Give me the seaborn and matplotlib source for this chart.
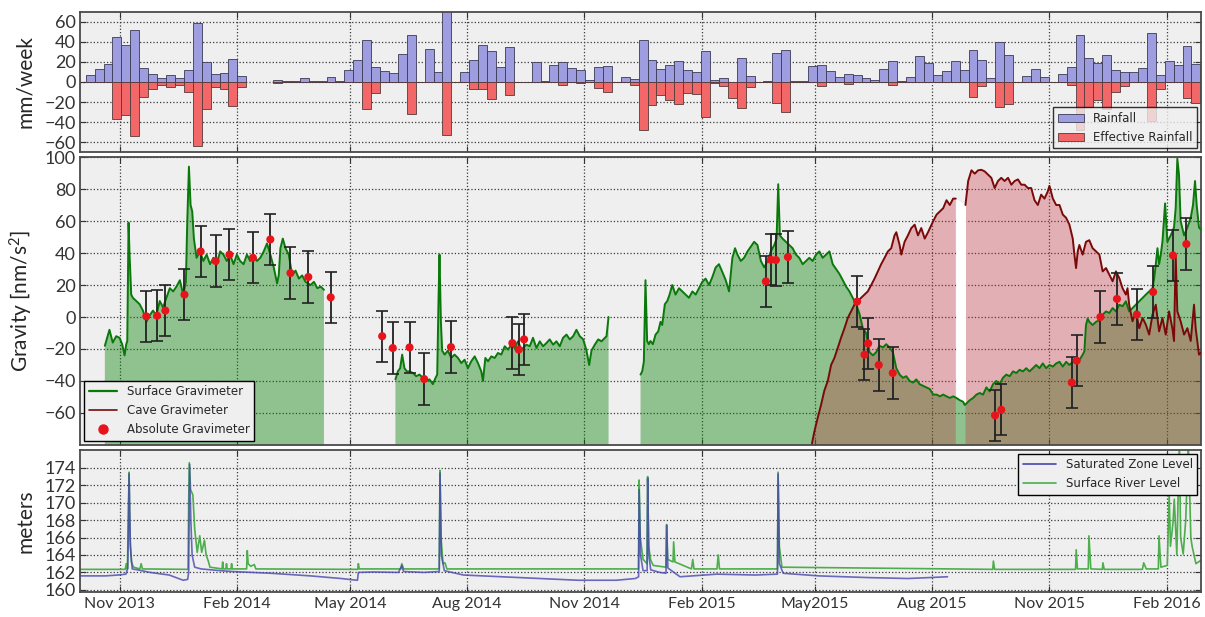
import numpy as np
import pandas as pd
import matplotlib
matplotlib.use("Agg")
import matplotlib.pyplot as plt
import seaborn as sns
from matplotlib.lines import Line2D

# ---------------------------------------------------------------------------
# Data (days are counted from 2013-10-01)
# ---------------------------------------------------------------------------
START = pd.Timestamp("2013-10-01")
X_END = pd.Timestamp("2016-02-28")

# weekly rainfall totals (mm/week); first week centred on 2013-10-09
rain_week0 = pd.Timestamp("2013-10-09")
rainfall = [7, 13, 18, 45, 37, 52, 14, 8, 4, 7, 4, 12, 59, 20, 8, 9, 23, 6,
            np.nan, np.nan, np.nan, 2, 0.5, 1, 4, 0.5, 0.5, 5, 0.5, 12, 22, 42,
            15, 11, 9, 28, 47, 0, 33, 10, 72, 0, 10, 22, 37, 31, 15, 35, 0, 0,
            20, 1, 17, 20, 14, 12, 2, 15, 16, 0, 5, 3, 42, 22, 13, 17, 21, 12,
            10, 31, 2, 4, 0, 24, 6, 0, 0.5, 29, 32, 1, 0.5, 16, 17, 11, 5, 8,
            7, 4, 2, 13, 21, 1, 5, 26, 19, 7, 11, 21, 12, 32, 22, 4, 40, 27,
            0, 6, 13, 5, 0, 8, 15, 47, 24, 19, 27, 12, 10, 10, 14, 49, 7, 21,
            17, 36, 18]
effective = [0, 0, 0, -37, -33, -54, -15, -7, -3, -5, -3, -10, -64, -27, -5, -7,
             -24, -5, np.nan, np.nan, np.nan, -1, 0, 0, 0, 0, 0, 0, 0, 0, 0,
             -27, -11, 0, 0, 0, -32, 0, 0, 0, -53, 0, 0, -7, -7, -17, 0, -13, 0,
             0, 0, 0, 0, -3, 0, -1, 0, -6, -10, 0, 0, -3, -48, -23, -13, -18,
             -22, -11, -12, -35, -1, -4, -16, -26, -5, 0, 0, -21, -30, 0, 0, 0,
             -4, 0, 0, -2, 0, 0, 0, 0, -3, 0, 0, 0, 0, 0, 0, 0, 0, -15, -4, 0,
             -25, -22, 0, 0, 0, 0, 0, 0, -3, -48, -25, -18, -27, -10, -4, 0, 0,
             -39, -7, 0, 0, -16, -21]

# surface (superconducting) gravimeter, three recording periods
surf1_days = [19.5, 23.1, 25.7, 28.4, 31.0, 33.1, 35.0, 36.3, 37.1, 38.1, 38.9,
              40.2, 41.5, 44.2, 46.8, 49.4, 52.1, 54.7, 57.3, 59.9, 62.6, 65.2,
              67.8, 70.5, 73.1, 75.7, 78.4, 81.0, 83.1, 84.2, 85.5, 86.8, 88.1,
              89.4, 91.5, 94.2, 96.8, 99.4, 102.1, 104.7, 107.3, 110.0, 112.6,
              115.2, 117.8, 120.5, 123.1, 125.7, 128.4, 131.0, 133.6, 136.3,
              138.9, 141.5, 144.2, 146.8, 149.4, 152.1, 154.7, 156.0, 157.3,
              159.2, 161.3, 163.9, 166.5, 169.2, 171.8, 174.4, 177.0, 181.0,
              183.6, 186.3, 188.9, 191.5]
surf1_vals = [-18, -8, -16, -12, -13, -17, -24, -17, -15, 59, 39, 14, 12, 10, 8,
              4, -3, 1, 4, 1, 10, 6, 12, 18, 16, 19, 23, 14, 22, 60, 94, 70, 66,
              49, 37, 41, 35, 39, 33, 37, 33, 41, 39, 35, 39, 33, 39, 35, 33, 39,
              35, 39, 35, 37, 41, 46, 39, 31, 21, 26, 43, 49, 43, 39, 26, 29, 24,
              26, 22, 20, 22, 18, 19, 17]
surf2_days = [247.6, 249.5, 251.3, 252.9, 254.7, 256.6, 258.7, 261.3, 263.9,
              266.5, 269.1, 271.8, 274.4, 277.0, 279.1, 280.4, 281.5, 282.2,
              283.3, 284.3, 286.2, 288.8, 291.4, 294.0, 296.7, 299.3, 301.9,
              304.5, 307.1, 309.8, 312.4, 315.0, 316.3, 318.2, 320.3, 322.9,
              325.5, 328.1, 330.7, 333.4, 336.0, 338.6, 341.2, 343.8, 346.5,
              350.4, 353.0, 355.6, 358.3, 360.9, 363.5, 366.1, 368.7, 371.4,
              374.0, 376.6, 379.2, 381.9, 384.5, 387.1, 389.7, 392.3, 395.0,
              397.6, 399.7, 401.5, 404.1, 406.8, 409.4, 412.0, 413.3, 414.9]
surf2_vals = [-39, -34, -32, -23.5, -32, -34, -34, -35, -37, -36, -38, -40, -39,
              -42, -38, -36, 14, 39, -3, -21, -23.5, -21, -25.6, -23.5, -25.6,
              -28.8, -26.7, -32, -27.7, -24.6, -28.8, -34, -40, -25.6, -27.7,
              -24.6, -25.6, -22.5, -23.5, -18.3, -20.4, -17.3, -19.4, -15.2,
              -20.4, -17.3, -18.3, -13, -19.4, -15.2, -18.3, -16.3, -14, -17.3,
              -15.2, -18.3, -13, -11, -14, -12, -8, -12, -14, -21, -30, -21,
              -17.3, -14, -15.2, -13, -12, 0]
surf3_days = [440.0, 441.3, 442.6, 443.9, 445.2, 446.5, 447.8, 449.7, 451.8,
              453.9, 455.7, 457.0, 459.1, 461.0, 462.8, 464.9, 467.5, 470.2,
              472.8, 475.4, 478.0, 480.7, 483.3, 485.9, 488.5, 491.1, 493.8,
              496.4, 499.0, 501.6, 504.3, 506.9, 509.5, 512.1, 514.2, 516.1,
              518.7, 521.3, 524.0, 526.6, 529.2, 531.8, 534.5, 537.1, 539.7,
              542.3, 545.0, 546.8, 548.1, 549.4, 551.5, 554.1, 556.8, 559.4,
              562.0, 564.6, 567.3, 569.9, 572.5, 575.1, 577.8, 580.4, 583.0,
              585.6, 588.3, 590.9, 593.5, 596.1, 598.8, 601.4, 604.0, 606.6,
              609.3, 611.9, 614.5, 617.1, 619.8, 622.4, 625.0, 627.6, 630.3,
              632.9, 635.5, 638.1, 640.8, 643.4, 646.0, 648.6, 651.3, 653.9,
              656.5, 659.1, 661.8, 664.4, 667.0, 669.8, 672.4, 675.0, 677.6,
              680.2, 682.8, 685.4, 688.0, 690.6, 693.3, 694.5, 695.9, 698.5,
              701.1, 703.7, 706.3, 708.9, 711.5, 714.1, 716.7, 719.3, 721.9,
              724.5, 727.1, 729.8, 732.4, 735.0, 737.6, 740.2, 742.8, 745.4,
              748.0, 750.6, 753.2, 755.8, 758.4, 761.0, 763.7, 766.3, 768.9,
              771.5, 774.1, 776.7, 779.3, 781.9, 784.5, 787.1, 788.4, 789.7,
              791.0, 792.3, 794.9, 797.6, 800.2, 802.8, 805.4, 808.0, 810.6,
              813.2, 815.8, 818.4, 821.0, 823.6, 826.2, 828.8, 831.5, 834.1,
              836.7, 839.3, 841.9, 843.2, 844.5, 845.8, 847.1, 848.4, 849.7,
              851.8, 853.6, 856.2, 858.8, 860.1, 861.4, 862.7, 864.0, 866.7,
              869.3, 871.9, 873.7, 875.3, 876.6, 878.4, 881.0]
surf3_vals = [-36, -34, -28, 23, -15, -17, -15, -17, -11, -9, -3, -5, 8, 10, 14,
              20, 14, 18, 16, 14, 12, 16, 14, 18, 22, 24, 20, 25, 31, 33, 28, 23,
              16, 37, 43, 39, 35, 37, 41, 44, 47, 45, 35, 31, 35, 41, 45, 49, 83,
              51, 49, 47, 45, 43, 39, 37, 33, 35, 37, 35, 39, 41, 37, 39, 41, 33,
              30, 27, 23, 19, 16, 12, 8, 2, -7, -10, -22, -24, -22, -18, -19,
              -17, -19, -22, -32, -36, -38, -37, -40, -41, -39, -42, -43, -44,
              -45, -48.5, -48.5, -49.6, -48.5, -49.6, -50.6, -49.6, -50.6, -52,
              -53, -55, -54, -52, -50.6, -48.5, -47.5, -48.5, -44, -46.5, -42,
              -40, -42, -38, -36, -37, -34, -35, -33, -34, -32, -34, -32, -30,
              -32, -29, -32, -30, -31, -29, -28, -31, -28, -30, -28, -26, -27,
              -23.5, -21.5, -5, -1, -3, -5, -3, -2, 1.5, 3.5, 2.5, 5.6, 3.5, 7.7,
              6.7, 9.8, 3.5, 5.6, 7.7, 9.8, 12, 14, 16, 18, 24, 33, 43, 33, 39,
              47, 71, 47, 51, 56, 68, 99, 89, 60, 51, 56, 62, 70, 85, 70, 56, 53.5]

# cave gravimeter (NaN marks a data gap)
cave_days = [574.6, 576.5, 579.1, 581.7, 584.3, 587.0, 589.6, 592.2, 594.8,
             597.4, 600.1, 602.7, 605.3, 607.9, 610.6, 613.2, 615.8, 618.4,
             621.1, 623.7, 626.3, 628.9, 631.6, 634.2, 636.8, 639.4, 640.8,
             643.4, 644.7, 647.3, 649.9, 652.6, 655.2, 657.8, 660.4, 663.1,
             665.7, 669.8, 672.4, 675.0, 677.6, 680.2, 682.8, 685.4, 687.5,
             691.0, 695.1, 697.2, 699.8, 702.4, 705.0, 707.6, 710.2, 712.8,
             715.4, 718.0, 720.6, 723.2, 725.8, 728.5, 731.1, 733.7, 736.3,
             738.9, 741.5, 744.1, 746.7, 749.3, 751.9, 754.5, 757.1, 759.7,
             761.0, 763.7, 766.3, 768.9, 771.5, 774.1, 776.7, 779.3, 780.6,
             781.9, 783.2, 784.5, 787.1, 789.7, 792.3, 794.9, 797.6, 800.2,
             802.8, 805.4, 808.0, 810.6, 813.2, 815.8, 818.4, 821.0, 822.3,
             823.6, 826.2, 828.8, 831.5, 834.1, 836.7, 839.3, 841.9, 844.5,
             847.1, 849.7, 852.3, 854.9, 857.5, 858.8, 860.1, 861.4, 864.0,
             866.7, 869.3, 871.9, 874.5, 875.8, 878.4, 881.0]
cave_vals = [-79, -71.5, -63, -55, -46, -40, -30, -25.6, -19.4, -13, -7, -0.6,
             3.5, 7.7, 10, 12, 14, 16, 20, 24, 28.5, 33, 37, 41, 43, 51, 53, 45,
             39, 47, 51, 55.6, 57.7, 51, 55.6, 49, 53, 60, 64, 66, 68, 73, 70,
             74, 74, np.nan, 70, 85, 91.7, 89.6, 91.7, 92, 91, 89, 87, 80.6, 85,
             87, 85, 87, 82.7, 85, 86, 82.7, 82.7, 80.6, 80.6, 73, 70, 76.5, 74,
             78.5, 82, 74, 70, 70, 64, 62, 57.7, 49, 39, 30.6, 41, 45, 39, 47,
             48, 43, 41, 39, 28.5, 30.6, 26.5, 22.3, 28.5, 24.4, 18, 14, 18,
             7.7, -2.7, 3.5, -7, -0.6, -4.8, -11, 1.5, 7.7, -9, -0.6, -11, 3.5,
             -7, -15, 39, 3.5, -2.7, -11, -7, -15, 7.7, -7, -23.5, -21.5]

# absolute gravimeter campaigns
abs_days = [52, 60.5, 67, 82, 94.7, 106.5, 117.3, 135.7, 149.4, 165.2, 179.2,
            196.8, 237.2, 245.5, 258.7, 270.2, 291.2, 339.4, 344.4, 348.6, 538.4,
            542.3, 546.3, 555.7, 610, 615.8, 618.7, 627, 638, 718.3, 723.2,
            778.5, 782.4, 801, 814, 829.6, 842.4, 858, 868.5]
abs_vals = [0.4, 0.8, 4, 14, 41, 35, 39, 37, 48.5, 27.5, 25, 12.3, -12, -19.4,
            -19, -38.8, -18.8, -16.3, -20.4, -14, 22.3, 35.8, 35.6, 37.5, 9.6,
            -23.5, -16.5, -30, -35, -61.5, -58, -41, -27.3, 0, 11.3, 1.5, 15.6,
            38.5, 45.6]
abs_err = [16, 16, 16, 16, 16, 16, 16, 16, 16, 16, 16, 16, 16, 16, 16, 16, 16,
           16, 16, 16, 16, 16, 16, 16, 16, 16, 16, 16, 16, 16, 16, 16, 16, 16,
           16, 16, 16, 16, 16]

# water levels (m)
sat_days = [0, 20, 30, 36, 37.5, 38.5, 39.5, 41, 45, 55, 70, 81, 84.5, 85.3, 86,
            87, 88, 90, 95, 110, 120, 150, 181, 205, 214, 217.8, 218.5, 230, 250,
            252.6, 254, 270, 282, 282.6, 283.6, 286, 301, 331, 361, 391, 421,
            436, 438.5, 438.9, 440, 442, 445.2, 445.6, 446.5, 448, 455, 460,
            460.5, 461.5, 471, 500, 530, 547.5, 548, 549, 552, 580, 620, 650,
            681]
sat_vals = [161.6, 161.6, 161.7, 161.8, 162.5, 173.3, 165, 162.4, 162.3, 162.0,
            161.7, 161.1, 161.2, 162, 174.4, 168, 164, 162.6, 162.4, 162.2,
            162.1, 161.9, 161.6, 161.3, 161.15, 161.1, 162, 162.05, 162, 162.8,
            162.1, 162, 162.1, 173.4, 164, 162.2, 161.7, 161.5, 161.3, 161.1,
            161.1, 161.3, 161.5, 171.5, 164, 162.2, 162.2, 172.8, 164, 162.3,
            162, 161.9, 167.4, 162.5, 161.5, 161.8, 161.7, 161.8, 173.3, 163,
            161.9, 161.6, 161.4, 161.3, 161.5]
river_days = [0, 35.5, 36.3, 37.2, 37.9, 38.5, 39.3, 40.3, 42, 47, 48, 49, 84.8,
              85.3, 85.8, 86.8, 88.6, 90, 92, 94, 95.5, 97.7, 99, 100.7, 102,
              111.5, 112, 112.5, 114.5, 115, 115.5, 118.5, 119, 119.5, 130.8,
              131.3, 132, 134, 136.8, 138, 218, 218.5, 219.2, 252, 252.6, 254,
              282, 282.6, 283.4, 285, 286.5, 288, 438.4, 438.9, 439.8, 442,
              445.1, 445.6, 446.4, 448, 450, 460, 460.5, 461.3, 465.5, 466, 467,
              480, 481, 482, 500, 501, 502, 547.5, 548, 549, 551, 716.5, 717,
              718, 781.5, 782, 783, 791.5, 792, 793.5, 802.5, 803, 804, 834,
              835, 837, 846.5, 847, 848.5, 853.5, 855, 856, 858, 859, 861, 863,
              864, 866, 868, 870, 872, 873, 876, 881]
river_vals = [162.35, 162.35, 163.0, 162.4, 168, 173.5, 166, 163.2, 162.6, 162.4,
              163.0, 162.4, 162.35, 170, 174.6, 171.5, 170.9, 167, 164.3, 166.2,
              164.3, 165.7, 164, 163.3, 162.6, 162.4, 163.2, 162.4, 162.4, 163.0,
              162.4, 162.4, 163.0, 162.4, 162.4, 164.5, 163, 162.7, 162.9, 162.4,
              162.35, 163.0, 162.4, 162.4, 163.0, 162.4, 162.4, 173.7, 166, 163,
              163.1, 162.4, 162.4, 172.6, 166, 163.5, 163, 173, 165, 163.4, 162.8,
              162.6, 167.5, 163.5, 163.2, 165.5, 163.2, 162.4, 163.5, 162.4,
              162.4, 164, 162.4, 162.4, 173.5, 165, 162.6, 162.35, 163.3,
              162.35, 162.35, 164.6, 162.4, 162.4, 166.2, 162.4, 162.35, 163.1,
              162.35, 162.35, 163.1, 162.4, 162.4, 166.2, 162.6, 162.8, 171,
              165, 167.7, 170.4, 164, 177, 166, 164.1, 168, 177, 166, 165, 163,
              163.5]

tick_dates = ["2013-11-01", "2014-02-01", "2014-05-01", "2014-08-01",
              "2014-11-01", "2015-02-01", "2015-05-01", "2015-08-01",
              "2015-11-01", "2016-02-01"]
tick_labels = ["Nov 2013", "Feb 2014", "May 2014", "Aug 2014", "Nov 2014",
               "Feb 2015", "May2015", "Aug 2015", "Nov 2015", "Feb 2016"]


def to_dates(days):
    return START + pd.to_timedelta(np.asarray(days, dtype=float), unit="D")


# ---------------------------------------------------------------------------
# Style
# ---------------------------------------------------------------------------
sns.set_theme(style="whitegrid", rc={
    "axes.facecolor": "#efefef",
    "axes.edgecolor": "#4a4a4a",
    "axes.linewidth": 1.3,
    "grid.color": "#3a3a3a",
    "grid.linestyle": ":",
    "grid.linewidth": 0.9,
    "xtick.direction": "in",
    "ytick.direction": "in",
    "xtick.color": "#333333",
    "ytick.color": "#333333",
    "mathtext.default": "regular",
})
plt.rcParams["font.family"] = ["Lato", "DejaVu Sans"]
legend_font = {"family": "DejaVu Sans", "size": 8.5}

fig = plt.figure(figsize=(12.05, 6.17), dpi=100)
L, W = 0.0664, 0.9303
ax3 = fig.add_axes([L, 0.0405, W, 0.2302])
ax2 = fig.add_axes([L, 0.2788, W, 0.4667], sharex=ax3)
ax1 = fig.add_axes([L, 0.7536, W, 0.2270], sharex=ax3)

# ---------------------------------------------------------------------------
# Top: weekly rainfall bars
# ---------------------------------------------------------------------------
rain_dates = rain_week0 + pd.to_timedelta(7 * np.arange(len(rainfall)), unit="D")
ax1.bar(rain_dates, rainfall, width=7, color="#9d9de0", edgecolor="#3a3a55",
        linewidth=0.6, label="Rainfall", zorder=2)
ax1.bar(rain_dates, effective, width=7, color="#f26868", edgecolor="#553a3a",
        linewidth=0.6, label="Effective Rainfall", zorder=2)
ax1.set_ylim(-70, 70)
ax1.set_yticks(range(-60, 61, 20))
ax1.set_ylabel("mm/week", fontsize=15)
leg1 = ax1.legend(loc="lower right", prop=legend_font, frameon=True,
                  fancybox=False, edgecolor="black", framealpha=0.8,
                  borderaxespad=0.3, handlelength=2.2)
leg1.get_frame().set_linewidth(1.0)

# ---------------------------------------------------------------------------
# Middle: gravity
# ---------------------------------------------------------------------------
surf_days = surf1_days + [np.nan] + surf2_days + [np.nan] + surf3_days
surf_vals = surf1_vals + [np.nan] + surf2_vals + [np.nan] + surf3_vals
surf_days = np.array([d if not np.isnan(d) else prev + 1
                      for d, prev in zip(surf_days, [0] + surf_days[:-1])])
surf_dates = to_dates(surf_days)
surf_vals = np.array(surf_vals, dtype=float)
cave_days_a = np.array(cave_days, dtype=float)
cave_vals_a = np.array(cave_vals, dtype=float)
cave_dates = to_dates(cave_days_a)

ax2.fill_between(surf_dates, surf_vals, -80, color="green", alpha=0.4,
                 linewidth=0, zorder=1)
ax2.fill_between(cave_dates, cave_vals_a, -80, color="#c8303c", alpha=0.33,
                 linewidth=0, zorder=1.1)

# blank band where the cave record is interrupted, above the surface trace
gap = np.where(np.isnan(cave_vals_a))[0][0]
g0, g1 = cave_days_a[gap - 1], cave_days_a[gap + 1]
gap_days = np.linspace(g0, g1, 12)
surf_ok = ~np.isnan(surf_vals)
gap_low = np.interp(gap_days, surf_days[surf_ok], surf_vals[surf_ok])
gap_high = np.interp(gap_days, [g0, g1], [cave_vals_a[gap - 1], cave_vals_a[gap + 1]])
ax2.fill_between(to_dates(gap_days), gap_low, gap_high, color="white",
                 linewidth=0, zorder=1.2)

ax2.plot(surf_dates, surf_vals, color="#0b780b", lw=1.4, zorder=3)
ax2.plot(cave_dates, cave_vals_a, color="#7a0a0a", lw=1.4, zorder=3)

abs_dates = to_dates(abs_days)
ax2.errorbar(abs_dates, abs_vals, yerr=abs_err, fmt="none", ecolor="#222222",
             elinewidth=1.3, capsize=4.5, capthick=1.2, zorder=4)
sns.scatterplot(x=abs_dates, y=abs_vals, color="#e8141c", s=34,
                edgecolor="none", zorder=5, ax=ax2, legend=False)
ax2.set_ylim(-80, 100)
ax2.set_yticks(range(-60, 101, 20))
ax2.set_ylabel("Gravity [nm/s$^2$]", fontsize=15)
handles2 = [Line2D([], [], color="#0b780b", lw=1.6),
            Line2D([], [], color="#7a0a0a", lw=1.2),
            Line2D([], [], color="#e8141c", marker="o", ls="none", ms=6.5)]
leg2 = ax2.legend(handles2, ["Surface Gravimeter", "Cave Gravimeter",
                             "Absolute Gravimeter"],
                  loc="lower left", prop=legend_font, frameon=True,
                  fancybox=False, edgecolor="black", framealpha=1,
                  borderaxespad=0.35, handlelength=2.4)
leg2.get_frame().set_linewidth(1.0)

# ---------------------------------------------------------------------------
# Bottom: water levels
# ---------------------------------------------------------------------------
sns.lineplot(x=to_dates(river_days), y=river_vals, color="#4cae4c", lw=1.2,
             ax=ax3, estimator=None, sort=False, zorder=2)
sns.lineplot(x=to_dates(sat_days), y=sat_vals, color="#4646b0", lw=1.2,
             alpha=0.8, ax=ax3, estimator=None, sort=False, zorder=3)
ax3.set_ylim(159.75, 176.05)
ax3.set_yticks(range(160, 175, 2))
ax3.set_ylabel("meters", fontsize=15)
handles3 = [Line2D([], [], color="#4646b0", lw=1.2),
            Line2D([], [], color="#4cae4c", lw=1.2)]
leg3 = ax3.legend(handles3, ["Saturated Zone Level", "Surface River Level"],
                  loc="upper right", prop=legend_font, frameon=True,
                  fancybox=False, edgecolor="black", framealpha=1,
                  borderaxespad=0.3, handlelength=2.8)
leg3.get_frame().set_linewidth(1.0)

# ---------------------------------------------------------------------------
# Shared axis formatting
# ---------------------------------------------------------------------------
ax3.set_xlim(START, X_END)
ax3.set_xticks(pd.to_datetime(tick_dates))
ax3.set_xticklabels(tick_labels)
for ax in (ax1, ax2, ax3):
    ax.set_xlabel("")
    ax.grid(True, which="major", axis="both")
    ax.tick_params(axis="y", labelsize=13, length=4, width=0.8, right=True,
                   left=True, pad=3)
    ax.tick_params(axis="x", labelsize=11.5, length=4, width=0.8, top=True,
                   bottom=True)
    ax.yaxis.set_label_coords(-0.040, 0.5)
    for s in ax.spines.values():
        s.set_visible(True)
        s.set_color("#4a4a4a")
for ax in (ax1, ax2):
    ax.tick_params(axis="x", labelbottom=False)

fig.savefig("out.png", dpi=100)
